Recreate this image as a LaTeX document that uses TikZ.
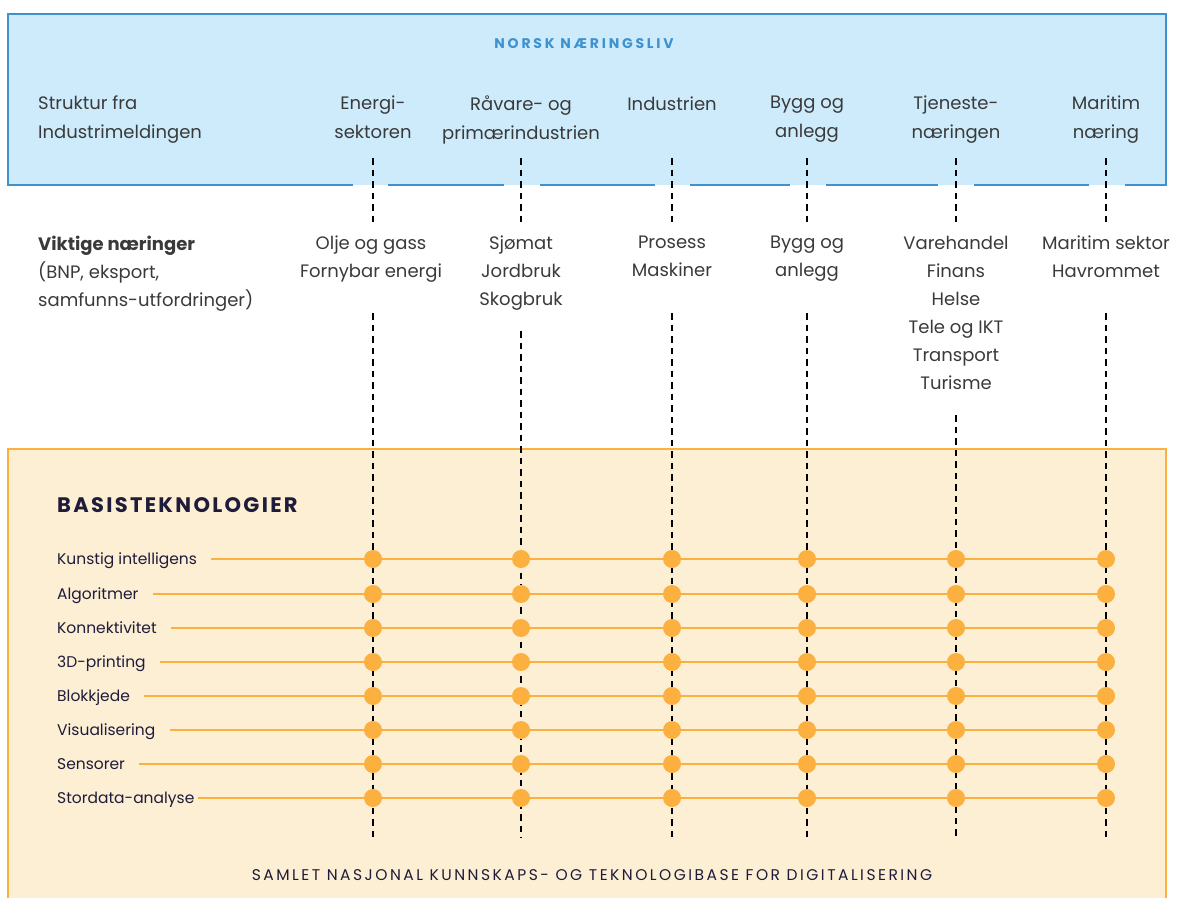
\documentclass[tikz,border=0pt]{standalone}
\usepackage{fontspec}
\setmainfont{Poppins}
\definecolor{bluestroke}{HTML}{3E92CF}
\definecolor{bluefill}{HTML}{CDEBFB}
\definecolor{orstroke}{HTML}{FBB040}
\definecolor{orfill}{HTML}{FDEFD4}
\definecolor{dotc}{HTML}{FBB040}
\definecolor{txt}{HTML}{3A3A3A}
\definecolor{navy}{HTML}{1E1C3A}
\pgfdeclarelayer{back}
\pgfdeclarelayer{mid}
\pgfsetlayers{back,mid,main}
\begin{document}
\begin{tikzpicture}[x=1pt,y=-1pt,
  lbl/.style={font=\fontsize{18}{28}\selectfont, text=txt, align=center, inner sep=0pt, anchor=north, execute at begin node=\strut},
  hlbl/.style={lbl, font=\fontsize{18}{29}\selectfont},
  tech/.style={font=\fontsize{15.5}{18}\selectfont, text=navy, inner sep=0pt, anchor=base west},
  dotn/.style={circle, fill=dotc, minimum size=18pt, inner sep=0pt},
  vdash/.style={draw=black, line width=1.4pt, dash pattern=on 6.5pt off 5pt},
  hline/.style={draw=dotc, line width=1.8pt},
  bstroke/.style={draw=bluestroke, line width=2.8pt}]
\useasboundingbox (0,0) rectangle (1178,897);
\clip (0,0) rectangle (1178,897);

\begin{pgfonlayer}{back}
\node[anchor=north west, minimum width=1158pt, minimum height=171pt, fill=bluefill, inner sep=0pt, outer sep=0pt] (top) at (8,14) {};
\node[anchor=north west, minimum width=1158pt, minimum height=480pt, fill=orfill, draw=orstroke, line width=2.8pt, inner sep=0pt, outer sep=0pt] (base) at (8,449) {};
\draw[bstroke] (353,185) -- (top.south west) -- (top.north west) -- (top.north east) -- (top.south east) -- (1125,185);
\foreach \a/\b in {388/504, 540/655, 690/790, 826/938, 974/1089}
  \draw[bstroke] (\a,185) -- (\b,185);
\end{pgfonlayer}

% titles
\node[font=\fontsize{14}{16}\selectfont\bfseries\addfontfeature{LetterSpace=20}, text=bluestroke, anchor=base, inner sep=0pt] (title) at (584,48) {NORSK NÆRINGSLIV};
\node[font=\fontsize{21}{24}\selectfont\bfseries\addfontfeature{LetterSpace=11}, text=navy, anchor=base west, inner sep=0pt] (basis) at (57,512) {BASISTEKNOLOGIER};
\node[font=\fontsize{15.5}{18}\selectfont\addfontfeature{LetterSpace=16}, text=navy, anchor=base, inner sep=0pt] (samlet) at (592,880) {SAMLET NASJONAL KUNNSKAPS- OG TEKNOLOGIBASE FOR DIGITALISERING};

% header labels
\node[hlbl, anchor=north west, align=left] (h0) at (38,96) {Struktur fra\\Industrimeldingen};
\node[hlbl] (h1) at (373,96) {Energi-\\sektoren};
\node[hlbl] (h2) at (521,96) {Råvare- og\\primærindustrien};
\node[hlbl] (h3) at (672,90) {Industrien};
\node[hlbl] (h4) at (807,96) {Bygg og\\anlegg};
\node[hlbl] (h5) at (956,96) {Tjeneste-\\næringen};
\node[hlbl] (h6) at (1106,96) {Maritim\\næring};

% middle labels
\node[lbl, anchor=north west, align=left] (m0) at (38,235.5) {\textbf{Viktige næringer}\\(BNP, eksport,\\samfunns-utfordringer)};
\node[lbl] (m1) at (371,235.5) {Olje og gass\\Fornybar energi};
\node[lbl] (m2) at (521,235.5) {Sjømat\\Jordbruk\\Skogbruk};
\node[lbl] (m3) at (672,235.5) {Prosess\\Maskiner};
\node[lbl] (m4) at (807,235.5) {Bygg og\\anlegg};
\node[lbl] (m5) at (956,235.5) {Varehandel\\Finans\\Helse\\Tele og IKT\\Transport\\Turisme};
\node[lbl] (m6) at (1106,235.5) {Maritim sektor\\Havrommet};

% dashed column connectors
\begin{pgfonlayer}{mid}
\foreach \c/\x/\s in {1/373/313, 2/521/331, 3/672/313, 4/807/313, 5/956/415, 6/1106/313} {
  \coordinate (ua\c) at (\x,158);
  \coordinate (ub\c) at (\x,222);
  \coordinate (la\c) at (\x,\s);
  \coordinate (lb\c) at (\x,838);
  \draw[vdash] (ua\c) -- (ub\c);
  \draw[vdash] (la\c) -- (lb\c);
}
\end{pgfonlayer}

% technologies
\foreach \n/\y/\g/\t in {1/559/14/Kunstig intelligens, 2/594/14/Algoritmer, 3/628/14/Konnektivitet, 4/662/14/3D-printing, 5/696/14/Blokkjede, 6/730/14/Visualisering, 7/764/14/Sensorer, 8/798/3/Stordata-analyse} {
  \node[tech] (t\n) at (57,\y+5.5) {\t};
  \foreach \c/\x in {1/373, 2/521, 3/672, 4/807, 5/956, 6/1106}
    \node[dotn] (d\n\c) at (\x,\y) {};
  \begin{pgfonlayer}{mid}
  \draw[hline] ([xshift=\g pt]t\n.east |- d\n1) -- (d\n6.center);
  \end{pgfonlayer}
}
\end{tikzpicture}
\end{document}
